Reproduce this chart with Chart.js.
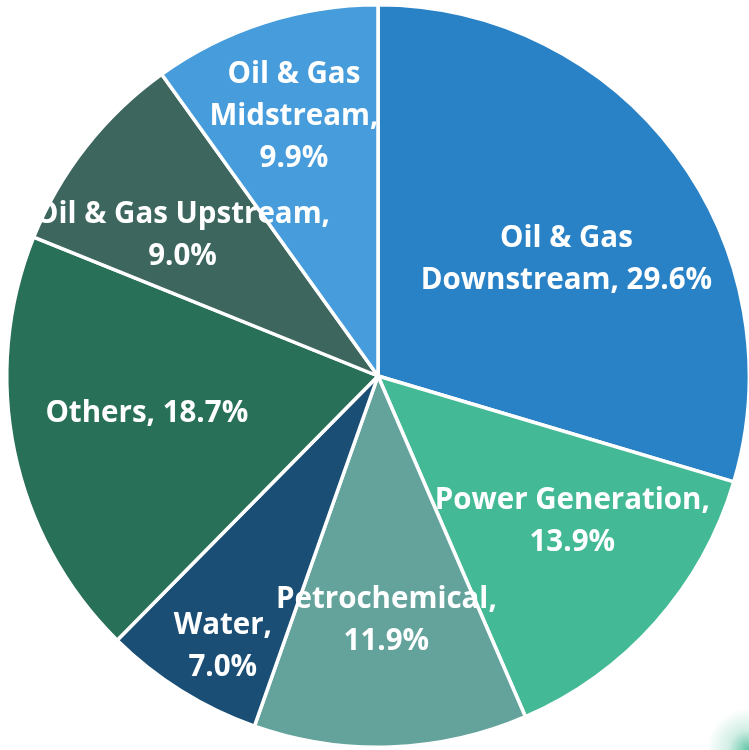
<!DOCTYPE html>
<html>
<head>
<meta charset="utf-8">
<script src="https://cdn.jsdelivr.net/npm/chart.js@4"></script>
<style>
  html, body { margin: 0; padding: 0; background: #fff; overflow: hidden; }
  body { width: 749px; height: 750px; position: relative;
    background: radial-gradient(circle at 100% 100%, rgba(67,186,149,0.85) 0, rgba(67,186,149,0.25) 20px, rgba(255,255,255,0) 42px), #fff; }
  #wrap { position: absolute; left: 0; top: 0; width: 756px; height: 752px; }
</style>
</head>
<body>
<div id="wrap"><canvas id="pieChart" width="756" height="752"></canvas></div>
<script>
const categories = [
  "Oil & Gas Downstream",
  "Power Generation",
  "Petrochemical",
  "Water",
  "Others",
  "Oil & Gas Upstream",
  "Oil & Gas Midstream"
];
const shares = [29.6, 13.9, 11.9, 7.0, 18.7, 9.0, 9.9];
const labelLines = [
  ["Oil & Gas", "Downstream, 29.6%"],
  ["Power Generation,", "13.9%"],
  ["Petrochemical,", "11.9%"],
  ["Water,", "7.0%"],
  ["Others, 18.7%"],
  ["Oil & Gas Upstream,", "9.0%"],
  ["Oil & Gas", "Midstream,", "9.9%"]
];
const colors = ["#2a82c6", "#43ba95", "#63a39c", "#1b4e74", "#297058", "#3c665e", "#479ddc"];

// label placement: angle tweak (deg) and distance as part of radius
const labelPlace = [[4.5, 0.60], [-5.2, 0.65], [0, 0.655], [-2, 0.835], [3, 0.63], [-2, 0.652], [0, 0.74]];

const sliceLabels = {
  id: "sliceLabels",
  afterDatasetsDraw(chart) {
    const ctx = chart.ctx;
    const arcs = chart.getDatasetMeta(0).data;
    ctx.save();
    ctx.fillStyle = "#fff";
    ctx.font = "bold 29.5px 'Open Sans'";
    ctx.textAlign = "center";
    ctx.textBaseline = "middle";
    arcs.forEach((arc, i) => {
      const mid = (arc.startAngle + arc.endAngle) / 2 + labelPlace[i][0] * Math.PI / 180;
      const r = arc.outerRadius * labelPlace[i][1];
      const x = arc.x + Math.cos(mid) * r;
      const y = arc.y + Math.sin(mid) * r + 2;
      const lines = labelLines[i];
      const lh = 42;
      lines.forEach((t, k) => {
        ctx.fillText(t, x, y + (k - (lines.length - 1) / 2) * lh);
      });
    });
    ctx.restore();
  }
};

new Chart(document.getElementById("pieChart"), {
  type: "pie",
  data: {
    labels: categories,
    datasets: [{
      data: shares,
      backgroundColor: colors,
      borderColor: "#fff",
      borderWidth: 3.5
    }]
  },
  options: {
    responsive: false,
    animation: false,
    layout: { padding: 3 },
    plugins: {
      legend: { display: false },
      tooltip: { enabled: false }
    }
  },
  plugins: [sliceLabels]
});
</script>
</body>
</html>
